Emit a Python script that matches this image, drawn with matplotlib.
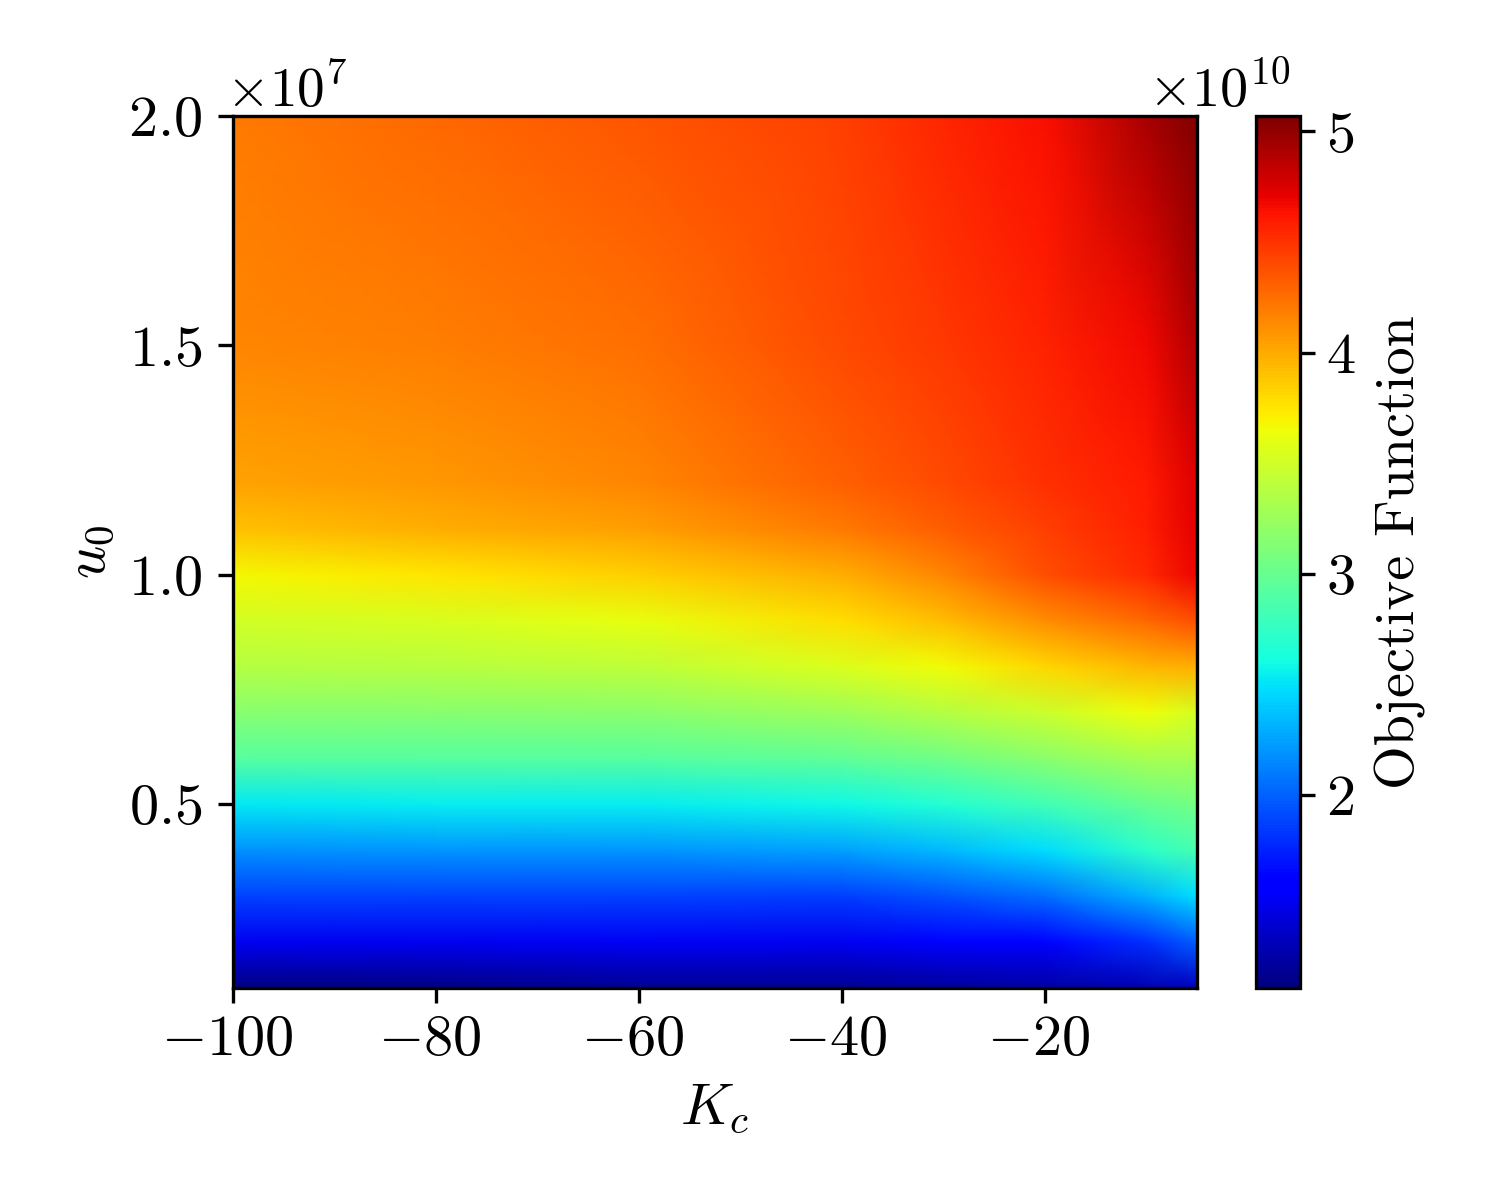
import numpy as np
import matplotlib
matplotlib.use("Agg")
import matplotlib.pyplot as plt
from matplotlib.ticker import ScalarFormatter
from matplotlib.transforms import ScaledTranslation

plt.rcParams['font.family'] = ['cmr10', 'DejaVu Serif']
plt.rcParams['mathtext.fontset'] = 'cm'
plt.rcParams['axes.formatter.use_mathtext'] = True
plt.rcParams['axes.unicode_minus'] = True

kc = [-100, -80, -60, -40, -30, -20, -10, -5]
u0 = [0.1e7, 0.2e7, 0.3e7, 0.4e7, 0.5e7, 0.6e7, 0.7e7, 0.8e7, 0.9e7, 1.0e7, 1.1e7, 1.2e7, 1.5e7, 2.0e7]
col_m100 = [1.13, 1.52, 1.88, 2.18, 2.52, 2.92, 3.15, 3.36, 3.50, 3.68, 3.90, 4.03, 4.15, 4.20]
col_m80 = [1.15, 1.52, 1.88, 2.20, 2.53, 2.92, 3.15, 3.38, 3.54, 3.75, 3.98, 4.08, 4.18, 4.27]
col_m60 = [1.20, 1.54, 1.88, 2.20, 2.53, 2.92, 3.17, 3.42, 3.62, 3.85, 4.05, 4.15, 4.25, 4.35]
col_m40 = [1.20, 1.52, 1.86, 2.24, 2.58, 2.96, 3.26, 3.55, 3.78, 3.98, 4.20, 4.30, 4.40, 4.45]
col_m30 = [1.22, 1.56, 1.94, 2.34, 2.68, 3.04, 3.36, 3.66, 3.92, 4.15, 4.32, 4.40, 4.47, 4.55]
col_m20 = [1.25, 1.62, 2.04, 2.48, 2.82, 3.16, 3.48, 3.82, 4.12, 4.38, 4.45, 4.50, 4.57, 4.65]
col_m10 = [1.30, 1.80, 2.30, 2.72, 3.00, 3.30, 3.64, 3.95, 4.28, 4.54, 4.58, 4.60, 4.68, 4.92]
col_m5 = [1.35, 1.98, 2.48, 2.84, 3.06, 3.30, 3.52, 3.98, 4.38, 4.70, 4.72, 4.74, 4.90, 5.07]

Z = np.array([col_m100, col_m80, col_m60, col_m40, col_m30, col_m20, col_m10, col_m5]).T * 1e10

fig = plt.figure(figsize=(5, 4), dpi=300)
ax = fig.add_axes([233/1500, 1-988/1200, (1197-233)/1500, (988-116)/1200])
cax = fig.add_axes([1256/1500, 1-988/1200, 44/1500, (988-116)/1200])
mesh = ax.pcolormesh(kc, u0, Z, cmap='jet', shading='gouraud', vmin=1.126e10, vmax=5.07e10)
ax.set_xlim(-100, -5)
ax.set_ylim(0.1e7, 2.0e7)
ax.set_xticks([-100, -80, -60, -40, -20])
ax.set_yticks([0.5e7, 1.0e7, 1.5e7, 2.0e7])
fmt = ScalarFormatter(useMathText=True)
fmt.set_powerlimits((0, 0))
ax.yaxis.set_major_formatter(fmt)
ax.tick_params(labelsize=14, width=0.8, length=3.5)
ax.tick_params(axis='y', pad=3.9)
ax.set_xlabel(r'$K_c$', fontsize=14, labelpad=4.0)
ax.set_ylabel(r'$u_0$', fontsize=14, labelpad=2.6)
off = ax.yaxis.get_offset_text()
off.set_fontsize(13.3)

cb = fig.colorbar(mesh, cax=cax)
cb.set_ticks([2e10, 3e10, 4e10, 5e10])
cfmt = ScalarFormatter(useMathText=True)
cfmt.set_powerlimits((0, 0))
cax.yaxis.set_major_formatter(cfmt)
cax.tick_params(labelsize=14, width=0.8, length=3.5, pad=2.8)
coff = cax.yaxis.get_offset_text()
coff.set_fontsize(13.5)
cb.set_label('Objective Function', fontsize=13.5, labelpad=4.6)

px = 72 / 300 / 72
def shift(text, dx, dy):
    text.set_transform(text.get_transform() + ScaledTranslation(dx * px, dy * px, fig.dpi_scale_trans))

fig.canvas.draw()
shift(off, -7, -4)
shift(coff, -10, -4)
for lab in ax.get_xticklabels():
    shift(lab, -6, 2)

fig.savefig('out.png', dpi=300)
